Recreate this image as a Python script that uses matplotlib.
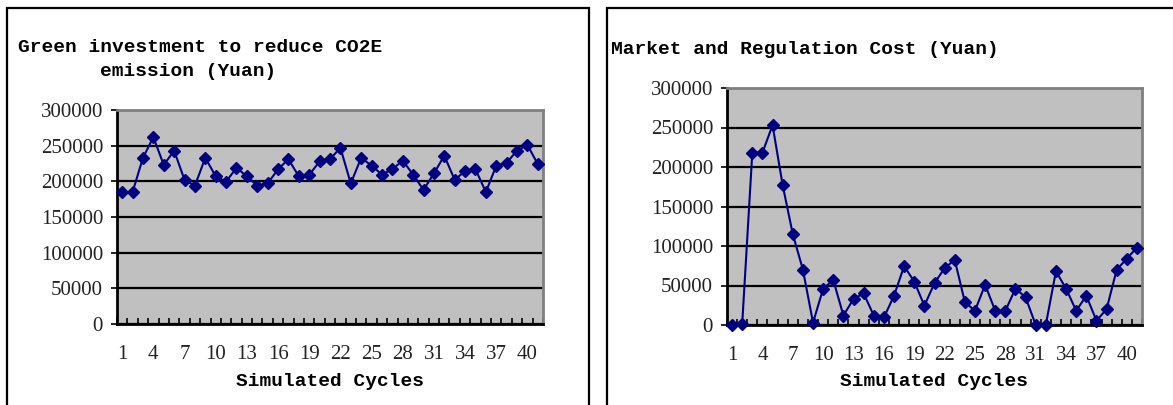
import numpy as np
import matplotlib.pyplot as plt
from matplotlib.patches import Rectangle

cycles = np.arange(1, 42)

green_investment = [185000, 185000, 233000, 262000, 223000, 243000, 202000, 194000, 233000, 207000,
                    199500, 219000, 207000, 194000, 197000, 217000, 231000, 207000, 209000, 228000,
                    231000, 247000, 197000, 233000, 222000, 209500, 217000, 229000, 209500, 188000,
                    211000, 236000, 202000, 214500, 217000, 185000, 222000, 226000, 243000, 251000,
                    224000]

market_cost = [0, 1000, 218000, 218000, 253000, 177000, 115000, 70000, 3000, 46000,
               57000, 12000, 33000, 40000, 12000, 9500, 37000, 74500, 55000, 24500,
               53000, 72000, 82500, 29000, 18000, 51000, 18000, 18000, 46000, 35000,
               0, 500, 68000, 46000, 18000, 37000, 5500, 20000, 70000, 84000,
               98000]

x_labels = [str(c) for c in range(1, 42, 3)]
y_ticks = [0, 50000, 100000, 150000, 200000, 250000, 300000]

W, H = 1173, 405
fig = plt.figure(figsize=(W / 100, H / 100), dpi=100)
fig.patch.set_facecolor('white')

# panel frames (bottom/right run off the canvas)
for x0, x1 in [(7, 589), (607, 1185)]:
    fig.patches.append(Rectangle((x0 / W, -0.1), (x1 - x0) / W, (H - 8) / H + 0.1,
                                 transform=fig.transFigure, fill=False,
                                 edgecolor='black', linewidth=1.6))

mono = dict(family='Liberation Mono', weight='bold', fontsize=14)
serif = 'Liberation Serif'


def draw_panel(rect, values):
    l, t, r, b = rect
    ax = fig.add_axes([l / W, (H - b) / H, (r - l) / W, (b - t) / H])
    ax.set_facecolor('#c0c0c0')
    ax.plot(cycles, values, color='#000080', linewidth=1.5, marker='D',
            markersize=6.5, markerfacecolor='#000080', markeredgecolor='#000080',
            clip_on=False, zorder=3)
    ax.set_xlim(0.5, 41.5)
    ax.set_ylim(0, 300000)
    ax.set_yticks(y_ticks)
    ax.set_yticklabels([str(v) for v in y_ticks], family=serif, fontsize=15, color='#222222')
    ax.set_xticks(range(1, 42, 3))
    ax.set_xticklabels(x_labels, family=serif, fontsize=15, color='#222222')
    ax.set_xticks(np.arange(0.5, 42, 1), minor=True)
    ax.tick_params(axis='x', which='major', length=0, pad=15)
    ax.tick_params(axis='x', which='minor', direction='in', length=4, width=1.2, color='black')
    ax.tick_params(axis='y', direction='out', length=4, width=1.2, pad=6)
    ax.grid(axis='y', color='black', linewidth=1.6)
    ax.set_axisbelow(True)
    for side in ['left', 'bottom']:
        ax.spines[side].set_color('black')
        ax.spines[side].set_linewidth(2)
    for side in ['top', 'right']:
        ax.spines[side].set_color('#808080')
        ax.spines[side].set_linewidth(2)
    fig.text((l + r) / 2 / W, 1 - 381 / H, 'Simulated Cycles', ha='center', va='center', **mono)
    return ax


draw_panel((117, 110, 543, 324), green_investment)
draw_panel((727, 88, 1142, 325), market_cost)

fig.text(18 / W, 1 - 47 / H, 'Green investment to reduce CO2E', ha='left', va='center', **mono)
fig.text(100 / W, 1 - 72 / H, 'emission (Yuan)', ha='left', va='center', **mono)
fig.text(611 / W, 1 - 49 / H, 'Market and Regulation Cost (Yuan)', ha='left', va='center', **mono)

fig.savefig('out.png', dpi=100)
